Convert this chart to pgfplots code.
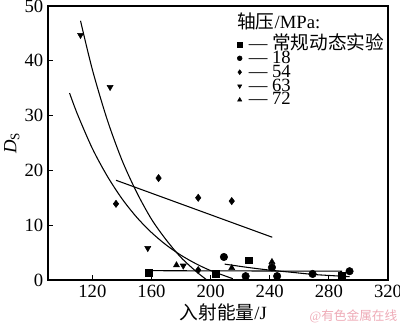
\documentclass[border=0pt]{standalone}
\usepackage{fontspec}
\setmainfont{Liberation Serif}
\newfontfamily\cjk{Noto Sans CJK SC}
\usepackage{pgfplots}
\pgfplotsset{compat=1.18}
\usetikzlibrary{calc}
\definecolor{wm}{RGB}{238,170,182}
\begin{document}
\begin{tikzpicture}
\begin{axis}[
  scale only axis, width=255pt, height=205.5pt,
  xmin=90, xmax=320, ymin=0, ymax=50,
  xtick={120,160,200,240,280,320}, ytick={0,10,20,30,40,50},
  tick align=inside, tick pos=left, major tick length=4pt,
  axis line style={line width=0.8pt},
  tick style={line width=0.6pt, black},
  /pgf/number format/assume math mode=true,
  ticklabel style={font=\fontsize{14}{16}\selectfont},
  xlabel={\cjk 入射能量\rmfamily/J},
  xlabel style={font=\fontsize{14}{16}\selectfont, yshift=2pt, xshift=4pt},
  ylabel={\textit{D}\textsubscript{S}},
  ylabel style={font=\fontsize{14}{16}\selectfont, yshift=-3pt},
  legend cell align=left,
  legend style={at={(rel axis cs:0.556,0.885)}, anchor=north west, draw=none, fill=none,
    font=\fontsize{14}{14}\selectfont, row sep=0.4pt, column sep=5pt, inner sep=0pt,
    nodes={inner sep=0pt, text height=8.8pt, text depth=1.2pt}},
  legend image code/.code={\draw[#1, mark size=1.8pt] plot coordinates {(0cm,0cm)};},
]
% data
\addplot[only marks, mark=square*, mark size=2.6pt, black] coordinates {(158,1.3) (203.6,1.1) (225.7,3.6) (288.6,0.7)};
\addlegendentry{— {\cjk 常规动态实验}}
\addplot[only marks, mark=*, mark size=2.8pt, black] coordinates {(209,4.2) (223.7,0.7) (241.5,2.3) (245,0.7) (269,1.1) (294,1.6)};
\addlegendentry{— 18}
\addplot[only marks, mark=diamond*, mark size=2.7pt, black] coordinates {(136,13.9) (164.8,18.6) (191.6,15.0) (214.3,14.4) (191.6,1.8)};
\addlegendentry{— 54}
\addplot[only marks, mark=triangle*, mark options={rotate=180}, mark size=2.6pt, black] coordinates {(112,44.7) (132,35.2) (157.5,5.8) (181.5,2.6)};
\addlegendentry{— 63}
\addplot[only marks, mark=triangle*, mark size=2.6pt, black] coordinates {(176.9,2.7) (214.3,2.2) (241.5,3.3)};
\addlegendentry{— 72}
% fits
\addplot[forget plot, black, line width=0.8pt] coordinates {(158,1.7) (289,1.6)};
\addplot[forget plot, black, line width=0.8pt, smooth] coordinates {(209.5,2.9) (225,2.3) (240,1.8) (255,1.4) (270,1.0) (285,0.75) (294,0.6)};
\addplot[forget plot, black, line width=0.8pt] coordinates {(136,18.2) (241.7,7.8)};
\addplot[forget plot, black, line width=0.8pt, smooth] coordinates {(112,47.3) (120,38.4) (130,29.3) (140,21.9) (150,16.0) (160,11.1) (170,7.3) (180,4.1) (190,1.6) (197,0.1)};
\addplot[forget plot, black, line width=0.8pt, smooth] coordinates {(104.6,34.1) (110,30.2) (120,24.0) (130,19.0) (140,14.85) (150,11.45) (160,8.67) (170,6.38) (180,4.51) (190,2.98) (200,1.72) (215,0.24)};
\node[anchor=west, font=\fontsize{14}{16}\selectfont, inner sep=0pt] at (rel axis cs:0.556,0.942) {\cjk 轴压\rmfamily/MPa:};
\end{axis}
\node[anchor=east, text=wm, font=\fontsize{9.5}{11}\selectfont, inner sep=0pt] at ($(current axis.south east)+(7.2pt,-27pt)$) {@\cjk 有色金属在线};
\pgfresetboundingbox
\path[use as bounding box] ($(current axis.south west)+(-36pt,-34.5pt)$) rectangle ($(current axis.north east)+(9pt,4.5pt)$);
\end{tikzpicture}
\end{document}
